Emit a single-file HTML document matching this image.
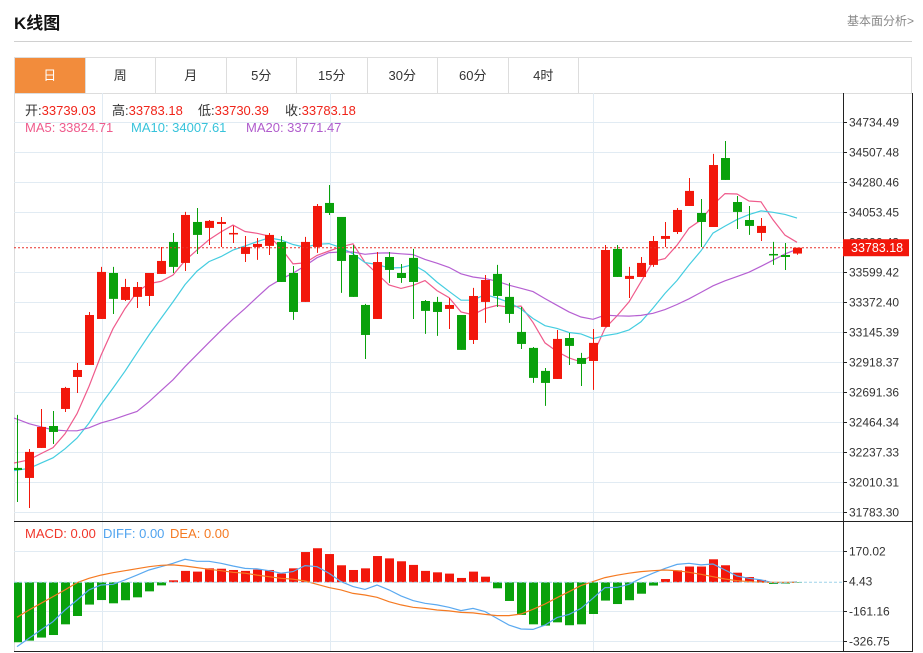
<!DOCTYPE html>
<html><head><meta charset="utf-8"><style>
body{margin:0;background:#fff;font-family:"Liberation Sans","Noto Sans CJK SC",sans-serif;}
#wrap{position:relative;width:923px;height:653px;overflow:hidden;}
.title{position:absolute;left:14px;top:9px;font-size:17px;font-weight:bold;color:#111;}
.link{position:absolute;left:847px;top:12px;font-size:12px;color:#888;}
.hr{position:absolute;left:14px;top:41px;width:898px;height:1px;background:#d0d0d0;}
.tabs{position:absolute;left:14px;top:57px;width:898px;height:36px;border:1px solid #ddd;border-bottom:none;box-sizing:border-box;display:flex;}
.tab{width:70.5px;height:35px;border-right:1px solid #ddd;box-sizing:border-box;text-align:center;line-height:35px;font-size:13px;color:#333;}
.tab.on{background:#f28c3c;color:#fff;}
svg{position:absolute;left:0;top:0;}
</style></head><body><div id="wrap">
<div class="title">K线图</div>
<div class="link">基本面分析&gt;</div>
<div class="hr"></div>
<div class="tabs">
<div class="tab on">日</div>
<div class="tab">周</div>
<div class="tab">月</div>
<div class="tab">5分</div>
<div class="tab">15分</div>
<div class="tab">30分</div>
<div class="tab">60分</div>
<div class="tab">4时</div>
</div>
<svg id="chart" width="923" height="653"></svg>
</div>
<script>
const preCloses=[32934,32896,32858,32843,32873,32820,32858,32896,32858,32896,32101,32026,31988,32041,32049,32139,32192,32162,32200];
const opens=[32117,32041,32268,32434,32563,32805,32896,33244,33592,33388,33411,33418,33585,33827,33668,33978,33933,33963,33887,33736,33789,33797,33827,33592,33373,33789,34122,34016,33728,33350,33244,33713,33592,33706,33380,33373,33320,33274,33085,33373,33585,33411,33146,33025,32851,32790,33100,32949,32926,33184,33774,33547,33562,33653,33850,33902,34099,34046,33940,34462,34129,33993,33895,33736,33728,33739.03];
const closes=[32101,32238,32427,32389,32722,32858,33274,33600,33396,33486,33486,33592,33683,33638,34031,33880,33986,33978,33895,33789,33812,33880,33524,33297,33827,34099,34046,33683,33411,33123,33675,33615,33554,33524,33305,33297,33350,33010,33418,33539,33418,33282,33055,32798,32760,33093,33040,32904,33063,33766,33562,33570,33668,33834,33872,34069,34213,33978,34409,34296,34054,33948,33948,33728,33713,33783.18];
const highs=[32518,32260,32563,32548,32730,32911,33297,33638,33638,33547,33524,33592,33789,33895,34054,34084,33993,34016,33948,33872,33857,33895,33872,33645,33865,34114,34258,34016,33804,33358,33751,33751,33660,33774,33388,33411,33403,33274,33479,33577,33653,33517,33335,33032,32873,33161,33138,32987,33168,33804,33804,33638,33713,33872,33978,34084,34311,34152,34493,34591,34175,34099,34008,33827,33819,33783.18];
const lows=[31859,31814,32268,32298,32540,32684,32896,33244,33282,33380,33327,33342,33585,33592,33607,33736,33804,33789,33819,33675,33691,33728,33524,33237,33373,33744,34031,33441,33411,32941,33244,33517,33517,33244,33131,33116,33168,33010,33055,33214,33335,33214,33017,32760,32586,32790,32896,32737,32707,33184,33562,33403,33562,33638,33789,33887,34099,33789,33940,34296,33925,33880,33834,33653,33615,33730.39];
const macdHist=[-331,-322,-305,-291,-232,-186,-123,-98,-116,-99,-83,-50,-17,11,63,59,77,75,68,63,70,68,48,77,167,188,156,94,68,77,145,132,116,96,63,55,48,24,59,31,-33,-103,-180,-232,-239,-221,-237,-232,-175,-101,-120,-99,-63,-18,18,66,87,87,127,94,53,29,13,-9,-7,-2];
const diffVals=[-355,-309,-263,-217,-153,-98,-42,-15,-11,13,40,68,86,105,127,116,116,105,90,77,74,64,50,59,92,86,50,4,-24,-39,-15,-42,-75,-101,-116,-125,-138,-156,-144,-162,-199,-236,-258,-260,-236,-195,-177,-144,-88,-29,-28,-11,22,50,77,99,105,96,101,68,35,22,13,-2,-2,2];
const deaVals=[-193,-153,-116,-79,-42,-2,22,40,53,64,75,86,94,96,90,81,72,64,55,50,40,31,22,17,7,-11,-29,-42,-61,-70,-83,-107,-125,-138,-144,-153,-158,-166,-169,-177,-184,-184,-175,-149,-120,-85,-52,-18,4,26,39,50,59,64,68,64,55,44,31,18,9,4,0,0,0,0];
const priceTicks=["34734.49","34507.48","34280.46","34053.45","33826.43","33599.42","33372.40","33145.39","32918.37","32691.36","32464.34","32237.33","32010.31","31783.30"];
const macdTicks=["170.02","4.43","-161.16","-326.75"];
const lastPrice=33783.18;

const NS="http://www.w3.org/2000/svg";
const svg=document.getElementById('chart');
function mk(tag,attrs,parent){const e=document.createElementNS(NS,tag);for(const k in attrs)e.setAttribute(k,attrs[k]);(parent||svg).appendChild(e);return e;}
const X0=14,X1=843,PY0=93,PY1=521,MY0=522,MY1=651;
const xS=i=>17+12*i;
const yP=p=>512-(p-31783.30)/227.016*30;
const yM=v=>582.3-v/5.52;
const RED='#f2170b',GREEN='#09a10b';

let g=mk('g',{});


mk('rect',{x:14.5,y:93.5,width:898,height:558,fill:'none',stroke:'#ddd'},g);
const grid=mk('g',{});


priceTicks.forEach(t=>{const y=Math.round(yP(+t))+0.5;mk('line',{x1:X0,x2:X1,y1:y,y2:y,stroke:'#e1ebf3'},grid);});
[102,330,593].forEach(x=>{mk('line',{x1:x+.5,x2:x+.5,y1:PY0,y2:MY1,stroke:'#e1ebf3'},grid);});
macdTicks.forEach((t,k)=>{if(k===1)return;const y=Math.round(yM(+t))+0.5;mk('line',{x1:X0,x2:X1,y1:y,y2:y,stroke:'#e1ebf3'},grid);});
mk('line',{x1:X0,x2:913,y1:521.5,y2:521.5,stroke:'#222'});
mk('line',{x1:X0,x2:913,y1:651.5,y2:651.5,stroke:'#222'});
mk('line',{x1:843.5,x2:843.5,y1:93,y2:652,stroke:'#222'});
mk('line',{x1:912.5,x2:912.5,y1:93,y2:652,stroke:'#222'});

const defs=mk('defs',{});
const cp=mk('clipPath',{id:'clip'},defs);
mk('rect',{x:X0,y:PY0,width:X1-X0,height:MY1-PY0},cp);

const ax=mk('g',{});


priceTicks.forEach(t=>{const y=Math.round(yP(+t))+0.5;mk('line',{x1:843,x2:847,y1:y,y2:y,stroke:'#222'},ax);
 const tx=mk('text',{x:849,y:y+4,'font-size':12,fill:'#333'},ax);tx.textContent=t;
 
 });
const mx=mk('g',{});


macdTicks.forEach(t=>{const y=Math.round(yM(+t))+0.5;mk('line',{x1:843,x2:847,y1:y,y2:y,stroke:'#222'},mx);
 const tx=mk('text',{x:849,y:y+4,'font-size':12,fill:'#333'},mx);tx.textContent=t;
 
 });

const plot=mk('g',{'clip-path':'url(#clip)'});
const all=preCloses.concat(closes);const P=preCloses.length;
function ma(n){return closes.map((c,i)=>{let s=0;for(let k=0;k<n;k++)s+=all[P+i-k];return s/n;});}
[[5,'#ef5b8c','ma5-line'],[10,'#45cde0','ma10-line'],[20,'#b660d2','ma20-line']].forEach(([n,col,name])=>{
 const v=ma(n);const pts=v.map((p,i)=>xS(i)+','+yP(p).toFixed(1)).join(' ');
 const pl=mk('polyline',{points:'3,'+yP(v[0]-(v[1]-v[0])).toFixed(1)+' '+pts,fill:'none',stroke:col,'stroke-width':1.2},plot);
 
 
});
closes.forEach((c,i)=>{
 const o=opens[i],up=c>=o,col=up?RED:GREEN,x=xS(i);
 const cg=mk('g',{},plot);
 
 
 mk('line',{x1:x+.5,x2:x+.5,y1:yP(highs[i]),y2:yP(lows[i]),stroke:col,'stroke-width':1},cg);
 const t=yP(Math.max(o,c)),b=yP(Math.min(o,c));
 mk('rect',{x:x-4,y:t,width:9,height:Math.max(1.5,b-t),fill:col},cg);
});
const ly=yP(lastPrice);
const lp=mk('line',{x1:X0,x2:X1,y1:ly,y2:ly,stroke:'#e8302a','stroke-dasharray':'2,2'});


const lb=mk('rect',{x:843,y:ly-8.5,width:66,height:17,fill:RED});


const lt=mk('text',{x:851,y:ly+4.5,'font-size':12.5,fill:'#fff'});lt.textContent=lastPrice.toFixed(2);



const zl=mk('line',{x1:X0,x2:X1,y1:yM(0),y2:yM(0),stroke:'#9fd3ea','stroke-dasharray':'3,2'});


macdHist.forEach((v,i)=>{
 const y0=yM(0),y=yM(v);
 const r=mk('rect',{x:xS(i)-4,y:Math.min(y0,y),width:9,height:Math.max(0.5,Math.abs(y-y0)),fill:v>=0?RED:GREEN},plot);
 
 
});
[[diffVals,'#5aa9f0','diff-line'],[deaVals,'#f57a22','dea-line']].forEach(([arr,col,name])=>{
 const pts=arr.map((v,i)=>xS(i)+','+yM(v).toFixed(1)).join(' ');
 const pl=mk('polyline',{points:pts,fill:'none',stroke:col,'stroke-width':1.2},plot);
 
 
});

function leg(x,y,parts,name){const t=mk('text',{x:x,y:y,'font-size':13});
 
 
 parts.forEach(([s,c])=>{const ts=mk('tspan',{fill:c},t);ts.textContent=s;});}
leg(25,115,[['开:','#333'],['33739.03','#f0241a']],'open-legend');
leg(112,115,[['高:','#333'],['33783.18','#f0241a']],'high-legend');
leg(198,115,[['低:','#333'],['33730.39','#f0241a']],'low-legend');
leg(285,115,[['收:','#333'],['33783.18','#f0241a']],'close-legend');
leg(25,132,[['MA5: 33824.71','#ef5b8c']],'ma5-legend');
leg(131,132,[['MA10: 34007.61','#37c3db']],'ma10-legend');
leg(246,132,[['MA20: 33771.47','#b05ccc']],'ma20-legend');
leg(25,538,[['MACD: 0.00','#f0362a']],'macd-legend');
leg(103,538,[['DIFF: 0.00','#4fa3ef']],'diff-legend');
leg(170,538,[['DEA: 0.00','#f57a22']],'dea-legend');
</script></body></html>
